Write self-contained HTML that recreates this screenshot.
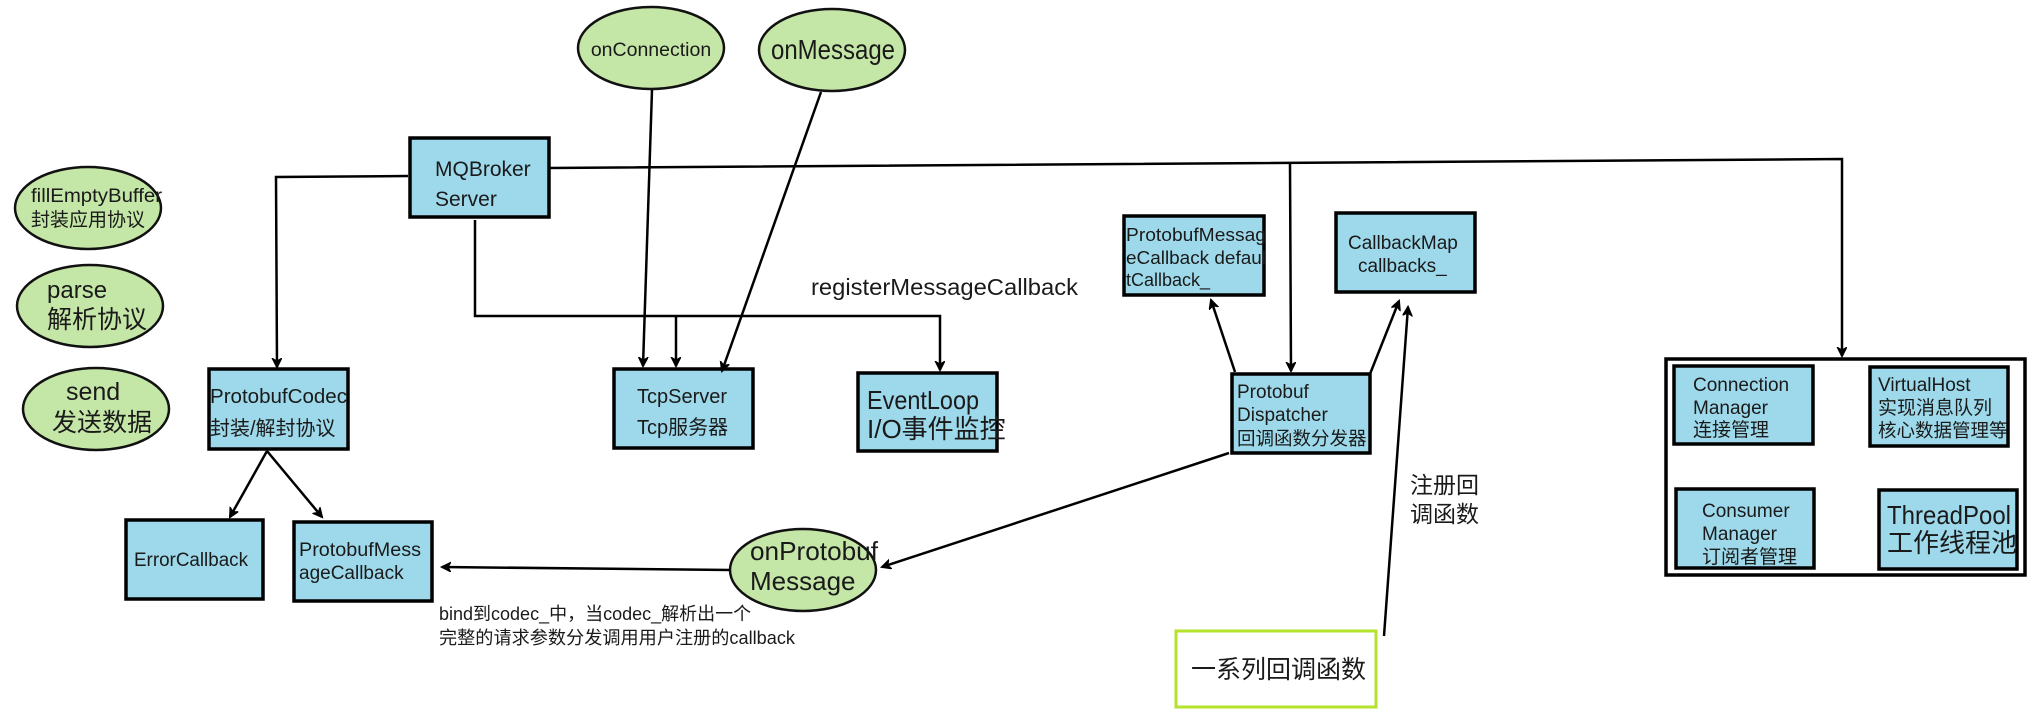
<!DOCTYPE html>
<html><head><meta charset="utf-8"><style>
html,body{margin:0;padding:0;background:#fff;}
svg{display:block;}
text{font-family:"Liberation Sans","Noto Sans CJK SC",sans-serif;fill:#1a1a1a;}
.b{fill:#9dd9ea;stroke:#000;stroke-width:3.5;}
.e{fill:#c4e6a6;stroke:#111;stroke-width:2.5;}
.l{stroke:#000;stroke-width:2.5;fill:none;}
</style></head><body>
<svg width="2030" height="712" viewBox="0 0 2030 712" xmlns="http://www.w3.org/2000/svg">
<defs><marker id="a" markerWidth="12" markerHeight="12" refX="9" refY="5" orient="auto" markerUnits="userSpaceOnUse"><path d="M0,0 L10,5 L0,10 L3,5 Z" fill="#000" stroke="#000" stroke-width="1"/></marker></defs>

<ellipse class="e" cx="88" cy="208" rx="73" ry="41"/>
<ellipse class="e" cx="90" cy="306" rx="73" ry="41"/>
<ellipse class="e" cx="96" cy="409" rx="73" ry="41"/>
<ellipse class="e" cx="651" cy="48" rx="73" ry="41"/>
<ellipse class="e" cx="832" cy="50" rx="73" ry="41"/>
<ellipse class="e" cx="803" cy="570" rx="73" ry="41"/>

<rect class="b" x="410" y="138" width="139" height="79"/>
<rect class="b" x="209" y="369" width="139" height="80"/>
<rect class="b" x="126" y="520" width="137" height="79"/>
<rect class="b" x="294" y="522" width="138" height="79"/>
<rect class="b" x="614" y="369" width="139" height="79"/>
<rect class="b" x="858" y="373" width="139" height="78"/>
<rect class="b" x="1124" y="216" width="140" height="79"/>
<rect class="b" x="1336" y="213" width="139" height="79"/>
<rect class="b" x="1232" y="374" width="138" height="79"/>
<rect x="1666" y="359" width="359" height="216" fill="none" stroke="#000" stroke-width="3.5"/>
<rect class="b" x="1674" y="366" width="139" height="78"/>
<rect class="b" x="1870" y="367" width="138" height="79"/>
<rect class="b" x="1676" y="489" width="138" height="79"/>
<rect class="b" x="1879" y="490" width="138" height="79"/>
<rect x="1176" y="631" width="200" height="76" fill="#fff" stroke="#b5e22a" stroke-width="3"/>

<path class="l" d="M549,168 L1842,159 L1842,356" marker-end="url(#a)"/>
<path class="l" d="M1290,164 L1291,371" marker-end="url(#a)"/>
<path class="l" d="M408,176 L276,177 L277,367" marker-end="url(#a)"/>
<path class="l" d="M475,220 L475,316 L940,316 L940,370" marker-end="url(#a)"/>
<path class="l" d="M676,316 L676,366" marker-end="url(#a)"/>
<path class="l" d="M652,90 L643,366" marker-end="url(#a)"/>
<path class="l" d="M821,92 L722,371" marker-end="url(#a)"/>
<path class="l" d="M267,451 L230,517" marker-end="url(#a)"/>
<path class="l" d="M267,451 L322,517" marker-end="url(#a)"/>
<path class="l" d="M730,570 L442,567" marker-end="url(#a)"/>
<path class="l" d="M1229,453 L882,567" marker-end="url(#a)"/>
<path class="l" d="M1235,372 L1211,300" marker-end="url(#a)"/>
<path class="l" d="M1370,374 L1399,301" marker-end="url(#a)"/>
<path class="l" d="M1384,636 L1408,307" marker-end="url(#a)"/>

<text x="31" y="202" font-size="19.5" textLength="131" lengthAdjust="spacingAndGlyphs">fillEmptyBuffer</text>
<text x="31" y="226" font-size="19">封装应用协议</text>
<text x="47" y="298" font-size="24">parse</text>
<text x="47" y="328" font-size="25">解析协议</text>
<text x="66" y="400" font-size="25">send</text>
<text x="52" y="431" font-size="25">发送数据</text>
<text x="651" y="56" font-size="19.5" text-anchor="middle">onConnection</text>
<text x="833" y="59" font-size="28" text-anchor="middle" textLength="124" lengthAdjust="spacingAndGlyphs">onMessage</text>
<text x="750" y="560" font-size="26" textLength="128" lengthAdjust="spacingAndGlyphs">onProtobuf</text>
<text x="750" y="590" font-size="26">Message</text>

<text x="435" y="176" font-size="21">MQBroker</text>
<text x="435" y="206" font-size="21">Server</text>
<text x="210" y="403" font-size="20" textLength="137" lengthAdjust="spacingAndGlyphs">ProtobufCodec</text>
<text x="210" y="435" font-size="20">封装/解封协议</text>
<text x="134" y="566" font-size="19" textLength="114" lengthAdjust="spacingAndGlyphs">ErrorCallback</text>
<text x="299" y="556" font-size="19" textLength="122" lengthAdjust="spacingAndGlyphs">ProtobufMess</text>
<text x="299" y="579" font-size="19">ageCallback</text>
<text x="637" y="403" font-size="20">TcpServer</text>
<text x="637" y="434" font-size="20">Tcp服务器</text>
<text x="867" y="409" font-size="26" textLength="112" lengthAdjust="spacingAndGlyphs">EventLoop</text>
<text x="867" y="438" font-size="26">I/O事件监控</text>
<text x="811" y="295" font-size="23" textLength="267" lengthAdjust="spacingAndGlyphs">registerMessageCallback</text>
<text x="439" y="620" font-size="18">bind到codec_中，当codec_解析出一个</text>
<text x="439" y="644" font-size="18" textLength="356" lengthAdjust="spacingAndGlyphs">完整的请求参数分发调用用户注册的callback</text>

<text x="1126" y="241" font-size="18" textLength="140" lengthAdjust="spacingAndGlyphs">ProtobufMessag</text>
<text x="1126" y="264" font-size="18" textLength="140" lengthAdjust="spacingAndGlyphs">eCallback defaul</text>
<text x="1126" y="286" font-size="18">tCallback_</text>
<text x="1348" y="249" font-size="19">CallbackMap</text>
<text x="1358" y="272" font-size="19">callbacks_</text>
<text x="1237" y="398" font-size="19">Protobuf</text>
<text x="1237" y="421" font-size="19">Dispatcher</text>
<text x="1237" y="445" font-size="18.5">回调函数分发器</text>
<text x="1410" y="493" font-size="23">注册回</text>
<text x="1410" y="522" font-size="23">调函数</text>
<text x="1191" y="678" font-size="25">一系列回调函数</text>

<text x="1693" y="391" font-size="19">Connection</text>
<text x="1693" y="414" font-size="19">Manager</text>
<text x="1693" y="436" font-size="19">连接管理</text>
<text x="1878" y="391" font-size="19">VirtualHost</text>
<text x="1878" y="414" font-size="19">实现消息队列</text>
<text x="1878" y="437" font-size="18.5">核心数据管理等</text>
<text x="1702" y="517" font-size="19">Consumer</text>
<text x="1702" y="540" font-size="19">Manager</text>
<text x="1702" y="563" font-size="19">订阅者管理</text>
<text x="1887" y="524" font-size="26" textLength="124" lengthAdjust="spacingAndGlyphs">ThreadPool</text>
<text x="1887" y="552" font-size="26">工作线程池</text>
</svg>
</body></html>
